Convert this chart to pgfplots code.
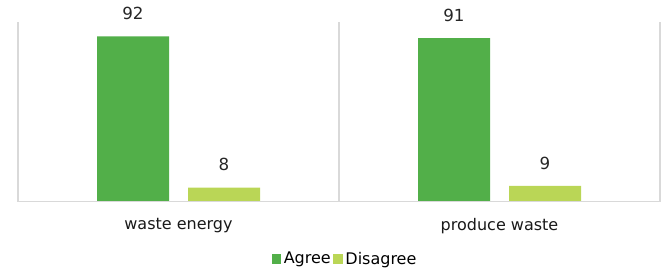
\documentclass[border=0pt]{standalone}
\usepackage{pgfplots}
\pgfplotsset{compat=1.18}
\usepackage{fontspec}
\setmainfont{DejaVu Sans}
\definecolor{agree}{RGB}{82,175,73}
\definecolor{disagree}{RGB}{186,214,86}
\definecolor{gridgray}{RGB}{217,217,217}
\begin{document}
\begin{tikzpicture}
\useasboundingbox (0,0) rectangle (495.75pt,203.25pt);
\begin{axis}[
  at={(13.5pt,51.75pt)}, anchor=south west,
  scale only axis, width=481.5pt, height=135pt,
  ybar, bar width=54pt,
  xmin=-0.5, xmax=1.5, ymin=0, ymax=100,
  axis line style={draw=none},
  ytick=\empty,
  xtick={0,1}, xticklabels={waste energy, produce waste},
  major tick length=0pt,
  /pgf/number format/assume math mode=true,
  xticklabel style={anchor=center, yshift=-18pt, font=\fontsize{12}{14}\selectfont, text=black!90},
  extra x ticks={-0.5,0.5,1.5},
  extra x tick labels={},
  extra x tick style={grid=major, major grid style={draw=gridgray, line width=0.8pt}},
  nodes near coords,
  every node near coord/.append style={anchor=center, yshift=17pt, font=\fontsize{12.5}{14}\selectfont, text=black!85},
  legend style={at={(0.51,-0.3167)}, anchor=center, draw=none, legend columns=2,
    font=\fontsize{12}{14}\selectfont, /tikz/every even column/.append style={column sep=0pt}},
  legend image code/.code={\fill[#1] (0pt,-3.5pt) rectangle (7pt,3.5pt);},
]
\addplot[fill=agree, draw=none, bar shift=-34.125pt] coordinates {(0,92) (1,91)};
\addplot[fill=disagree, draw=none, bar shift=34.125pt] coordinates {(0,8) (1,9)};
\legend{Agree, Disagree}
\draw[gridgray, line width=1pt] (axis cs:-0.5,0) -- (axis cs:1.5,0);
\end{axis}
\end{tikzpicture}
\end{document}
